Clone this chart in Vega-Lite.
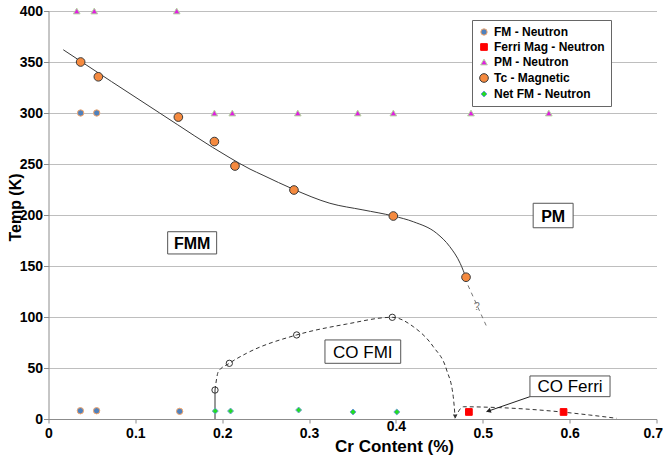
{
  "$schema": "https://vega.github.io/schema/vega-lite/v6.json",
  "width": 608,
  "height": 408,
  "autosize": "none",
  "padding": {"left": 48.5, "top": 11, "right": 6.5, "bottom": 38},
  "background": "white",
  "config": {
    "view": {"stroke": null},
    "font": "Liberation Sans",
    "legend": {
      "orient": "none",
      "legendX": 423.5,
      "legendY": 9,
      "fillColor": "white",
      "strokeColor": "#666666",
      "padding": 6,
      "labelFont": "Liberation Sans",
      "labelFontSize": 12,
      "labelFontWeight": "bold",
      "labelColor": "#000000",
      "rowPadding": 3,
      "symbolStrokeWidth": 1
    }
  },
  "datasets": {
    "pts": [
      {"series": "FM - Neutron", "x": 0.037, "y": 300},
      {"series": "FM - Neutron", "x": 0.0555, "y": 300},
      {"series": "FM - Neutron", "x": 0.0367, "y": 8.1},
      {"series": "FM - Neutron", "x": 0.0554, "y": 8.1},
      {"series": "FM - Neutron", "x": 0.151, "y": 7.5},
      {"series": "Ferri Mag - Neutron", "x": 0.484, "y": 6.9},
      {"series": "Ferri Mag - Neutron", "x": 0.593, "y": 6.9},
      {"series": "PM - Neutron", "x": 0.0325, "y": 400},
      {"series": "PM - Neutron", "x": 0.0527, "y": 400},
      {"series": "PM - Neutron", "x": 0.1476, "y": 400},
      {"series": "PM - Neutron", "x": 0.191, "y": 300},
      {"series": "PM - Neutron", "x": 0.2116, "y": 300},
      {"series": "PM - Neutron", "x": 0.287, "y": 300},
      {"series": "PM - Neutron", "x": 0.356, "y": 300},
      {"series": "PM - Neutron", "x": 0.397, "y": 300},
      {"series": "PM - Neutron", "x": 0.4864, "y": 300},
      {"series": "PM - Neutron", "x": 0.576, "y": 300},
      {"series": "Tc - Magnetic", "x": 0.037, "y": 350},
      {"series": "Tc - Magnetic", "x": 0.0574, "y": 335.5},
      {"series": "Tc - Magnetic", "x": 0.1495, "y": 296},
      {"series": "Tc - Magnetic", "x": 0.191, "y": 272},
      {"series": "Tc - Magnetic", "x": 0.2147, "y": 248},
      {"series": "Tc - Magnetic", "x": 0.2826, "y": 224.5},
      {"series": "Tc - Magnetic", "x": 0.397, "y": 199},
      {"series": "Tc - Magnetic", "x": 0.4807, "y": 139},
      {"series": "Net FM - Neutron", "x": 0.192, "y": 7.8},
      {"series": "Net FM - Neutron", "x": 0.2096, "y": 7.8},
      {"series": "Net FM - Neutron", "x": 0.288, "y": 8.8},
      {"series": "Net FM - Neutron", "x": 0.3506, "y": 6.9},
      {"series": "Net FM - Neutron", "x": 0.401, "y": 6.9}
    ],
    "tcline": [
      {"x": 0.017, "y": 362},
      {"x": 0.128, "y": 300},
      {"x": 0.209, "y": 256},
      {"x": 0.232, "y": 245},
      {"x": 0.247, "y": 239},
      {"x": 0.2826, "y": 225},
      {"x": 0.324, "y": 211.5},
      {"x": 0.362, "y": 205},
      {"x": 0.397, "y": 199},
      {"x": 0.42, "y": 193.4},
      {"x": 0.447, "y": 182},
      {"x": 0.462, "y": 169},
      {"x": 0.474, "y": 152.6},
      {"x": 0.4807, "y": 138.5}
    ],
    "qline": [
      {"x": 0.483, "y": 131},
      {"x": 0.5045, "y": 90.5}
    ],
    "cofmi": [
      {"x": 0.1917, "y": 28.4},
      {"x": 0.1955, "y": 46.4},
      {"x": 0.2082, "y": 54.6},
      {"x": 0.228, "y": 64.4},
      {"x": 0.2857, "y": 82.4},
      {"x": 0.3433, "y": 93.1},
      {"x": 0.3958, "y": 99.7},
      {"x": 0.42, "y": 90.5},
      {"x": 0.443, "y": 70.9},
      {"x": 0.4584, "y": 48},
      {"x": 0.466, "y": 21.9},
      {"x": 0.468, "y": 3}
    ],
    "cofmipts": [
      {"x": 0.1917, "y": 28.4},
      {"x": 0.2082, "y": 54.6},
      {"x": 0.2857, "y": 82.4},
      {"x": 0.3958, "y": 99.7}
    ],
    "vline": [
      {"x": 0.1917, "y": 0, "y2": 28.4}
    ],
    "coferri": [
      {"x": 0.468, "y": 0.7},
      {"x": 0.4776, "y": 12},
      {"x": 0.508, "y": 11.5},
      {"x": 0.587, "y": 7.2},
      {"x": 0.623, "y": 3.9},
      {"x": 0.654, "y": 0.7}
    ],
    "arrowline": [
      {"x": 0.5045, "y": 7.2},
      {"x": 0.5543, "y": 21.9}
    ],
    "arrowhead": [
      {"x": 0.5065, "y": 7.8}
    ],
    "tiphead": [
      {"x": 0.468, "y": 2.5}
    ],
    "boxes": [
      {"name": "FMM", "x": 0.1372, "x2": 0.1936, "y": 161.8, "y2": 183.6},
      {"name": "PM", "x": 0.558, "x2": 0.604, "y": 187.5, "y2": 211.5},
      {"name": "CO FMI", "x": 0.3183, "x2": 0.4055, "y": 54.6, "y2": 77.5},
      {"name": "CO Ferri", "x": 0.5543, "x2": 0.6465, "y": 21.9, "y2": 42.2}
    ],
    "labels": [
      {"label": "FMM", "x": 0.1654, "y": 172.7},
      {"label": "PM", "x": 0.581, "y": 199.5},
      {"label": "CO FMI", "x": 0.3619, "y": 66},
      {"label": "CO Ferri", "x": 0.6004, "y": 32},
      {"label": "?", "x": 0.493, "y": 110}
    ]
  },
  "encoding": {
    "x": {
      "field": "x",
      "type": "quantitative",
      "scale": {"domain": [0, 0.7], "nice": false, "zero": false},
      "axis": {
        "title": "Cr Content (%)",
        "values": [0, 0.1, 0.2, 0.3, 0.4, 0.5, 0.6, 0.7],
        "format": "~g",
        "grid": false,
        "domainColor": "#8c8c8c",
        "tickColor": "#8c8c8c",
        "tickSize": 4,
        "labelFont": "Liberation Sans",
        "labelFontWeight": "bold",
        "labelFontSize": 14,
        "labelColor": "#000000",
        "labelPadding": 3,
        "labelFlush": false,
        "labelAlign": {"condition": {"test": "datum.value >= 0.69", "value": "right"}, "value": "center"},
        "labelOffset": {"condition": {"test": "datum.value >= 0.69", "value": 6}, "value": 0},
        "labelBaseline": {"condition": {"test": "datum.value > 0.39 && datum.value < 0.41", "value": "middle"}, "value": "top"},
        "titleFont": "Liberation Sans",
        "titleFontWeight": "bold",
        "titleFontSize": 17,
        "titleColor": "#000000",
        "titleX": 345.5,
        "titleY": 32,
        "titleAlign": "center",
        "titleBaseline": "alphabetic"
      }
    },
    "y": {
      "field": "y",
      "type": "quantitative",
      "scale": {"domain": [0, 400], "nice": false},
      "axis": {
        "title": "Temp (K)",
        "values": [0, 50, 100, 150, 200, 250, 300, 350, 400],
        "grid": true,
        "gridColor": "#BEBEBE",
        "gridWidth": 1,
        "domainColor": "#8c8c8c",
        "tickColor": "#8c8c8c",
        "tickSize": 5,
        "labelFont": "Liberation Sans",
        "labelFontWeight": "bold",
        "labelFontSize": 14,
        "labelColor": "#000000",
        "labelPadding": 1,
        "labelFlush": false,
        "titleFont": "Liberation Sans",
        "titleFontWeight": "bold",
        "titleFontSize": 16,
        "titleColor": "#000000",
        "titleX": -25,
        "titleY": 196,
        "titleAngle": -90,
        "titleAlign": "center",
        "titleBaseline": "bottom"
      }
    }
  },
  "layer": [
    {
      "data": {"name": "tcline"},
      "mark": {"type": "line", "interpolate": "monotone", "color": "#3a3a3a", "strokeWidth": 1}
    },
    {
      "data": {"name": "qline"},
      "mark": {"type": "line", "color": "#777777", "strokeWidth": 1, "strokeDash": [4, 4]}
    },
    {
      "data": {"name": "cofmi"},
      "mark": {"type": "line", "interpolate": "monotone", "color": "#333333", "strokeWidth": 1, "strokeDash": [4, 3]}
    },
    {
      "data": {"name": "vline"},
      "mark": {"type": "rule", "color": "#333333", "strokeWidth": 1},
      "encoding": {"y2": {"field": "y2"}}
    },
    {
      "data": {"name": "coferri"},
      "mark": {"type": "line", "interpolate": "monotone", "color": "#333333", "strokeWidth": 1, "strokeDash": [4, 3]}
    },
    {
      "data": {"name": "arrowline"},
      "mark": {"type": "line", "color": "#222222", "strokeWidth": 1}
    },
    {
      "data": {"name": "arrowhead"},
      "mark": {"type": "point", "shape": "triangle-left", "angle": 341, "filled": true, "color": "#222222", "size": 30, "opacity": 1}
    },
    {
      "data": {"name": "tiphead"},
      "mark": {"type": "point", "shape": "triangle-down", "filled": true, "color": "#333333", "size": 18, "opacity": 1}
    },
    {
      "data": {"name": "boxes"},
      "mark": {"type": "rect", "fill": "white", "stroke": "#555555", "strokeWidth": 1},
      "encoding": {"x2": {"field": "x2"}, "y2": {"field": "y2"}}
    },
    {
      "data": {"name": "labels"},
      "transform": [{"filter": "datum.label == 'FMM' || datum.label == 'PM'"}],
      "mark": {"type": "text", "font": "Liberation Sans", "fontWeight": "bold", "fontSize": 16, "color": "#000000", "align": "center", "baseline": "middle", "dy": 1},
      "encoding": {"text": {"field": "label"}}
    },
    {
      "data": {"name": "labels"},
      "transform": [{"filter": "datum.label == 'CO FMI' || datum.label == 'CO Ferri'"}],
      "mark": {"type": "text", "font": "Liberation Sans", "fontSize": 17, "color": "#000000", "align": "center", "baseline": "middle", "dy": 1},
      "encoding": {"text": {"field": "label"}}
    },
    {
      "data": {"name": "labels"},
      "transform": [{"filter": "datum.label == '?'"}],
      "mark": {"type": "text", "font": "Liberation Sans", "fontSize": 11, "color": "#777777", "align": "center", "baseline": "middle"},
      "encoding": {"text": {"field": "label"}}
    },
    {
      "data": {"name": "cofmipts"},
      "mark": {"type": "point", "shape": "circle", "filled": false, "color": "#333333", "size": 40, "strokeWidth": 1, "opacity": 1}
    },
    {
      "data": {"name": "pts"},
      "mark": {"type": "point", "filled": true, "opacity": 1, "strokeWidth": 1},
      "encoding": {
        "color": {
          "field": "series", "type": "nominal", "title": null,
          "scale": {
            "domain": ["FM - Neutron", "Ferri Mag - Neutron", "PM - Neutron", "Tc - Magnetic", "Net FM - Neutron"],
            "range": ["#4F81BD", "#FF0000", "#E020E0", "#F58A3F", "#22DD22"]
          }
        },
        "shape": {
          "field": "series", "type": "nominal", "title": null,
          "scale": {
            "domain": ["FM - Neutron", "Ferri Mag - Neutron", "PM - Neutron", "Tc - Magnetic", "Net FM - Neutron"],
            "range": ["circle", "square", "triangle-up", "circle", "diamond"]
          }
        },
        "size": {
          "field": "series", "type": "nominal", "title": null,
          "scale": {
            "type": "ordinal",
            "domain": ["FM - Neutron", "Ferri Mag - Neutron", "PM - Neutron", "Tc - Magnetic", "Net FM - Neutron"],
            "range": [40, 45, 45, 75, 35]
          }
        },
        "stroke": {
          "field": "series", "type": "nominal", "title": null,
          "scale": {
            "domain": ["FM - Neutron", "Ferri Mag - Neutron", "PM - Neutron", "Tc - Magnetic", "Net FM - Neutron"],
            "range": ["#F5A66A", "#FF0000", "#B5D9A0", "#3a3a3a", "#6A9FD0"]
          }
        }
      }
    }
  ]
}
